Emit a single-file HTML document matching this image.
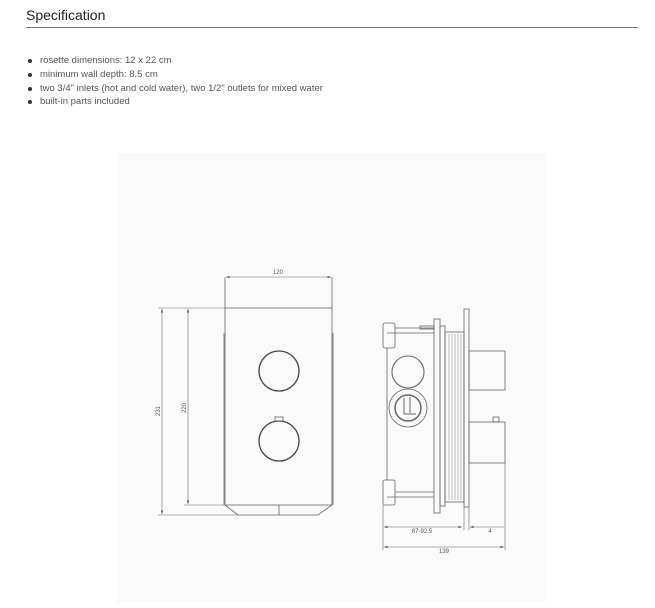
<!DOCTYPE html>
<html><head><meta charset="utf-8"><style>
body{margin:0;width:655px;height:608px;background:#fff;font-family:"Liberation Sans",sans-serif;position:relative;overflow:hidden}
h1{position:absolute;left:26px;top:7px;margin:0;font-size:14px;font-weight:normal;color:#222}
.hr{position:absolute;left:26px;top:27px;width:612px;height:1px;background:#777}
ul{position:absolute;left:26px;top:54px;margin:0;padding:0;list-style:none;font-size:9.5px;color:#555}
li{height:13.8px;line-height:13.8px;padding-left:14px;position:relative}
li:before{content:"";position:absolute;left:2px;top:5px;width:4px;height:4px;border-radius:50%;background:#333}
.panel{position:absolute;left:117px;top:153px;width:428px;height:450px;background:#fafafa}
svg{position:absolute;left:0;top:0}
</style></head><body>
<h1>Specification</h1><div class="hr"></div>
<ul><li>rosette dimensions: 12 x 22 cm</li><li>minimum wall depth: 8.5 cm</li><li>two 3/4" inlets (hot and cold water), two 1/2" outlets for mixed water</li><li>built-in parts included</li></ul>
<div class="panel"></div>
<svg width="655" height="608" fill="none" stroke="#666" stroke-width="0.8" font-family="Liberation Sans" font-size="6">
<defs><marker id="a" markerWidth="6" markerHeight="6" refX="6" refY="3" orient="auto-start-reverse"><path d="M0,1 L6,3 L0,5z" fill="#555" stroke="none"/></marker></defs>
<rect x="225" y="308" width="107" height="197"/>
<line x1="224" y1="333" x2="224" y2="505"/><line x1="333" y1="333" x2="333" y2="505"/>
<path d="M225,505 L238,515 L318,515 L332,505"/><line x1="279" y1="505" x2="279" y2="515"/>
<circle cx="279" cy="371" r="20" stroke-width="1.3" stroke="#444"/>
<circle cx="279" cy="441" r="20" stroke-width="1.3" stroke="#444"/>
<rect x="275" y="417" width="8" height="4"/>
<line x1="225" y1="277" x2="225" y2="308"/><line x1="332" y1="277" x2="332" y2="308"/>
<line x1="226" y1="277" x2="331" y2="277" marker-start="url(#a)" marker-end="url(#a)" stroke-width="0.6"/>
<line x1="158" y1="308" x2="225" y2="308" stroke-width="0.6"/><line x1="158" y1="515" x2="238" y2="515" stroke-width="0.6"/>
<line x1="184" y1="505" x2="225" y2="505" stroke-width="0.6"/>
<line x1="162" y1="309" x2="162" y2="514" marker-start="url(#a)" marker-end="url(#a)" stroke-width="0.6"/>
<line x1="188" y1="309" x2="188" y2="504" marker-start="url(#a)" marker-end="url(#a)" stroke-width="0.6"/>
<g fill="#555" stroke="none"><text x="278" y="274" text-anchor="middle">120</text>
<text transform="translate(160,411) rotate(-90)" text-anchor="middle">231</text>
<text transform="translate(186,408) rotate(-90)" text-anchor="middle">220</text>
<text x="422" y="533" text-anchor="middle">87-92,5</text><text x="490" y="533" text-anchor="middle">4</text>
<text x="444" y="553" text-anchor="middle">139</text></g>
<path d="M387,348 L387,480 M387,333 L434,333 M387,497 L434,497"/>
<rect x="383" y="323" width="12" height="25" rx="2"/><rect x="383" y="480" width="12" height="25" rx="2"/>
<line x1="395" y1="328" x2="434" y2="328"/><line x1="395" y1="492" x2="434" y2="492"/>
<rect x="420" y="326" width="14" height="3"/>
<rect x="434" y="319" width="6" height="194"/><rect x="440" y="326" width="5" height="180"/>
<rect x="445" y="332" width="19" height="170"/>
<g stroke-width="0.4"><line x1="449" y1="334" x2="449" y2="500"/><line x1="452" y1="334" x2="452" y2="500"/><line x1="455" y1="334" x2="455" y2="500"/><line x1="458" y1="334" x2="458" y2="500"/><line x1="461" y1="334" x2="461" y2="500"/></g>
<rect x="464" y="309" width="5" height="198"/>
<rect x="469" y="351" width="36" height="39"/><rect x="469" y="422" width="36" height="41"/>
<rect x="493" y="417" width="6" height="5"/>
<circle cx="408" cy="372" r="16" stroke-width="1.1"/>
<circle cx="408" cy="408" r="19"/><circle cx="408" cy="408" r="13" stroke-width="1.5"/>
<path d="M404,398 L404,414 L416,414 M410,397 L410,413" stroke-width="1"/>
<line x1="383" y1="505" x2="383" y2="550" stroke-width="0.6"/><line x1="464" y1="507" x2="464" y2="530" stroke-width="0.6"/>
<line x1="469" y1="507" x2="469" y2="530" stroke-width="0.6"/><line x1="505" y1="463" x2="505" y2="550" stroke-width="0.6"/>
<line x1="384" y1="527" x2="462" y2="527" marker-start="url(#a)" marker-end="url(#a)" stroke-width="0.6"/>
<line x1="470" y1="527" x2="504" y2="527" marker-start="url(#a)" stroke-width="0.6"/>
<line x1="384" y1="547" x2="504" y2="547" marker-start="url(#a)" marker-end="url(#a)" stroke-width="0.6"/>
</svg>
</body></html>
